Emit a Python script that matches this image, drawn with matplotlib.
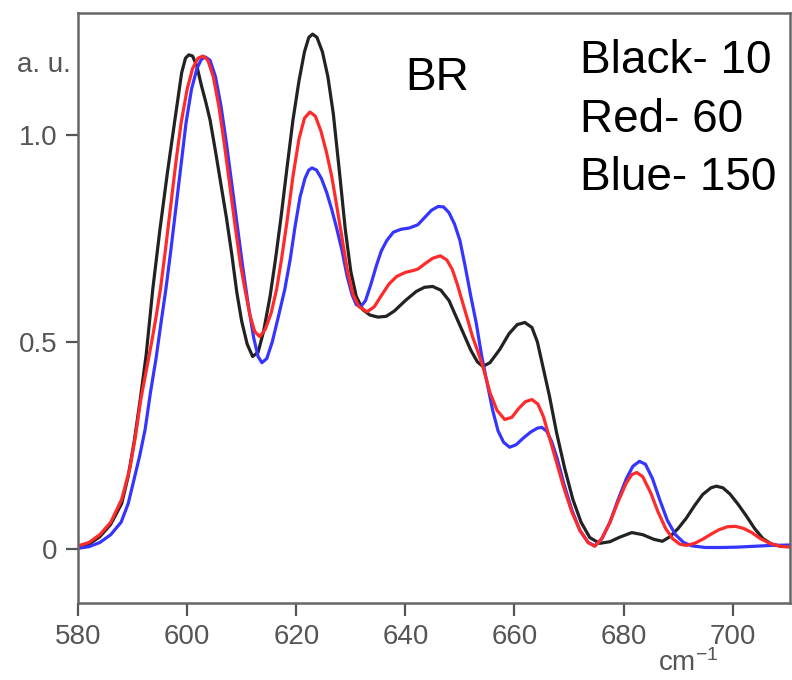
import matplotlib
matplotlib.use('Agg')
import matplotlib.pyplot as plt
import numpy as np

plt.rcParams['font.family'] = ['Liberation Sans', 'DejaVu Sans']
plt.rcParams['mathtext.default'] = 'regular'

# Raman band profiles (wavenumber, a.u.) for the three series
black_pts = [(580, 0.005), (582, 0.012), (584, 0.03), (586, 0.06), (588, 0.11), (589.2, 0.176),
             (590.3, 0.26), (591.4, 0.361), (592.5, 0.47), (593.7, 0.627), (595, 0.77), (596.4, 0.91),
             (597.8, 1.04), (599, 1.15), (599.7, 1.185), (600.3, 1.193), (601, 1.19), (601.8, 1.165),
             (602.6, 1.12), (603.4, 1.08), (604.2, 1.036), (605.2, 0.96), (606.2, 0.88), (607.2, 0.8),
             (608.2, 0.71), (609.1, 0.62), (610, 0.55), (611, 0.495), (612, 0.465), (613, 0.475),
             (614, 0.525), (615.2, 0.61), (616.2, 0.7), (617.2, 0.8), (618.3, 0.92), (619.4, 1.036),
             (620.5, 1.13), (621.5, 1.2), (622.3, 1.235), (623, 1.243), (623.8, 1.235), (624.8, 1.2),
             (625.8, 1.14), (626.8, 1.05), (628, 0.9), (629, 0.77), (630, 0.67), (631, 0.61),
             (632.2, 0.578), (633.5, 0.565), (635, 0.56), (636.5, 0.562), (638, 0.575), (640, 0.6),
             (642, 0.622), (643.5, 0.632), (645, 0.634), (646.5, 0.625), (648, 0.6), (650, 0.54),
             (652, 0.48), (653.2, 0.452), (654.2, 0.441), (655.5, 0.45), (657.3, 0.482), (659, 0.52),
             (660.5, 0.542), (661.9, 0.547), (663.2, 0.535), (664.2, 0.5), (665.2, 0.441), (666.4, 0.37),
             (667.7, 0.282), (669.2, 0.195), (670.7, 0.12), (672.2, 0.065), (673.8, 0.028), (675.6, 0.014),
             (677.5, 0.018), (679.3, 0.029), (681.5, 0.04), (683.5, 0.035), (685.5, 0.024), (687.1, 0.019),
             (688.5, 0.03), (690, 0.05), (691.5, 0.075), (693, 0.105), (694.5, 0.132), (696, 0.148),
             (697, 0.152), (698.2, 0.148), (699.5, 0.133), (701, 0.108), (702.5, 0.08), (704, 0.05),
             (705.5, 0.026), (707, 0.013), (708.5, 0.008), (710.5, 0.006)]

red_pts = [(580, 0.008), (582, 0.016), (584, 0.035), (586, 0.065), (588, 0.12), (589.5, 0.195),
           (590.5, 0.27), (591.5, 0.361), (592.5, 0.43), (593.5, 0.5), (594.3, 0.56), (595.1, 0.627),
           (596, 0.72), (597, 0.83), (598, 0.94), (598.9, 1.029), (600, 1.11), (601, 1.16),
           (602, 1.185), (602.9, 1.19), (603.8, 1.18), (604.8, 1.14), (605.8, 1.07), (606.8, 0.98),
           (607.8, 0.88), (608.8, 0.78), (609.8, 0.685), (610.6, 0.627), (611.5, 0.565), (612.4, 0.525),
           (613.3, 0.513), (614.3, 0.53), (615.4, 0.57), (616.4, 0.627), (617.3, 0.7), (618.3, 0.79),
           (619.4, 0.9), (620.5, 0.99), (621.5, 1.04), (622.5, 1.055), (623.5, 1.045), (624.5, 1.01),
           (625.5, 0.96), (626.5, 0.9), (627.4, 0.83), (628.4, 0.75), (629.4, 0.67), (630.4, 0.615),
           (631.5, 0.585), (633, 0.573), (634.3, 0.585), (635.5, 0.61), (637, 0.64), (638.4, 0.658),
           (640, 0.668), (641.3, 0.672), (642.3, 0.676), (643.5, 0.688), (645, 0.702), (646.4, 0.708),
           (647.6, 0.698), (648.6, 0.675), (649.5, 0.64), (650.5, 0.595), (651.5, 0.55), (652.3, 0.513),
           (653.2, 0.48), (654.2, 0.441), (655.5, 0.378), (656.8, 0.335), (658.2, 0.313), (659.5, 0.318),
           (660.8, 0.34), (662, 0.356), (663.2, 0.361), (664.3, 0.35), (665.3, 0.32), (666.5, 0.265),
           (667.7, 0.21), (669, 0.15), (670.5, 0.09), (672, 0.045), (673.5, 0.016), (674.7, 0.007),
           (676, 0.025), (677.5, 0.065), (679, 0.115), (680.5, 0.16), (681.5, 0.18), (682.4, 0.185),
           (683.5, 0.175), (685, 0.135), (686.3, 0.09), (687.7, 0.05), (689, 0.025), (690.3, 0.012),
           (691.5, 0.009), (693, 0.014), (694.5, 0.024), (696, 0.036), (697.5, 0.047), (699, 0.054),
           (700.5, 0.055), (702, 0.05), (703.5, 0.04), (705, 0.026), (706.8, 0.014), (708.6, 0.007),
           (710.5, 0.005)]

blue_pts = [(580, 0.002), (582, 0.006), (584, 0.016), (586, 0.035), (587.9, 0.065), (589.2, 0.11),
            (590.3, 0.17), (591.3, 0.225), (592.3, 0.289), (593.3, 0.38), (594.3, 0.46), (595.2, 0.545),
            (596.1, 0.627), (597, 0.72), (598, 0.83), (599, 0.94), (599.8, 1.029), (600.8, 1.11),
            (601.8, 1.16), (602.6, 1.182), (603.3, 1.188), (604.2, 1.18), (605.2, 1.14), (606.2, 1.07),
            (607.2, 0.98), (608.2, 0.88), (609.2, 0.78), (610.2, 0.68), (611.2, 0.59), (612.2, 0.51),
            (613, 0.465), (613.7, 0.45), (614.6, 0.46), (615.6, 0.5), (616.7, 0.56), (617.9, 0.627),
            (618.9, 0.7), (619.8, 0.78), (620.7, 0.85), (621.6, 0.895), (622.3, 0.915), (622.9, 0.92),
            (623.7, 0.915), (624.6, 0.895), (625.6, 0.86), (626.5, 0.82), (627.4, 0.775), (628.4, 0.72),
            (629.3, 0.66), (630.2, 0.615), (631, 0.59), (631.8, 0.585), (632.7, 0.6), (633.7, 0.64),
            (634.7, 0.685), (635.6, 0.72), (636.6, 0.745), (637.8, 0.765), (639.2, 0.772), (640.7, 0.775),
            (642.3, 0.783), (643.5, 0.8), (644.8, 0.818), (646, 0.827), (647, 0.826), (648, 0.812),
            (649, 0.785), (650, 0.745), (651, 0.68), (652, 0.61), (653, 0.545), (654, 0.465),
            (655, 0.4), (656, 0.335), (657, 0.285), (658, 0.258), (659.1, 0.246), (660.3, 0.252),
            (661.6, 0.268), (663, 0.283), (664.2, 0.292), (665, 0.294), (665.9, 0.285), (666.8, 0.26),
            (667.8, 0.22), (669, 0.16), (670.5, 0.095), (672, 0.045), (673.5, 0.016), (674.7, 0.008),
            (676, 0.025), (677.5, 0.065), (679, 0.12), (680.5, 0.17), (681.7, 0.2), (682.9, 0.212),
            (684, 0.205), (685.3, 0.17), (686.6, 0.12), (688, 0.07), (689.5, 0.035), (691, 0.016),
            (692.5, 0.008), (695, 0.004), (698, 0.004), (701, 0.005), (704, 0.007), (707, 0.009),
            (710.5, 0.01)]

x_ticks = [580, 600, 620, 640, 660, 680, 700]
y_ticks = [0, 0.5, 1.0]
y_ticklabels = ['0', '0.5', '1.0']
legend_lines = ['Black- 10', 'Red- 60', 'Blue- 150']

fig = plt.figure(figsize=(7.92, 6.8), dpi=100)
ax = fig.add_axes([0.0985, 0.1132, 0.899, 0.8677])

for pts, col in [(black_pts, '#222222'), (blue_pts, '#3535ff'), (red_pts, '#ff2a2a')]:
    arr = np.array(pts)
    ax.plot(arr[:, 0], arr[:, 1], color=col, lw=2.3,
            solid_capstyle='round', solid_joinstyle='round')

ax.set_xlim(580, 710.5)
ax.set_ylim(-0.13, 1.294)
ax.set_xticks(x_ticks)
ax.set_yticks(y_ticks)
ax.set_yticklabels(y_ticklabels)
ax.tick_params(direction='out', length=9, width=1.6, color='#555555',
               labelsize=20, labelcolor='#555555', pad=6)
for sp in ax.spines.values():
    sp.set_color('#666666')
    sp.set_linewidth(1.8)

ax.text(-0.01, 0.912, 'a. u.', transform=ax.transAxes, ha='right', va='center',
        fontsize=20, color='#555555')
ax.text(0.815, -0.102, 'cm$^{-1}$', transform=ax.transAxes, ha='left', va='center',
        fontsize=20, color='#555555')

ax.text(0.504, 0.89, 'BR', transform=ax.transAxes, ha='center', va='center',
        fontsize=33, color='black')
for txt, yy in zip(legend_lines, [0.919, 0.819, 0.720]):
    ax.text(0.705, yy, txt, transform=ax.transAxes, ha='left', va='center',
            fontsize=33, color='black')

fig.savefig('out.png', dpi=100)
